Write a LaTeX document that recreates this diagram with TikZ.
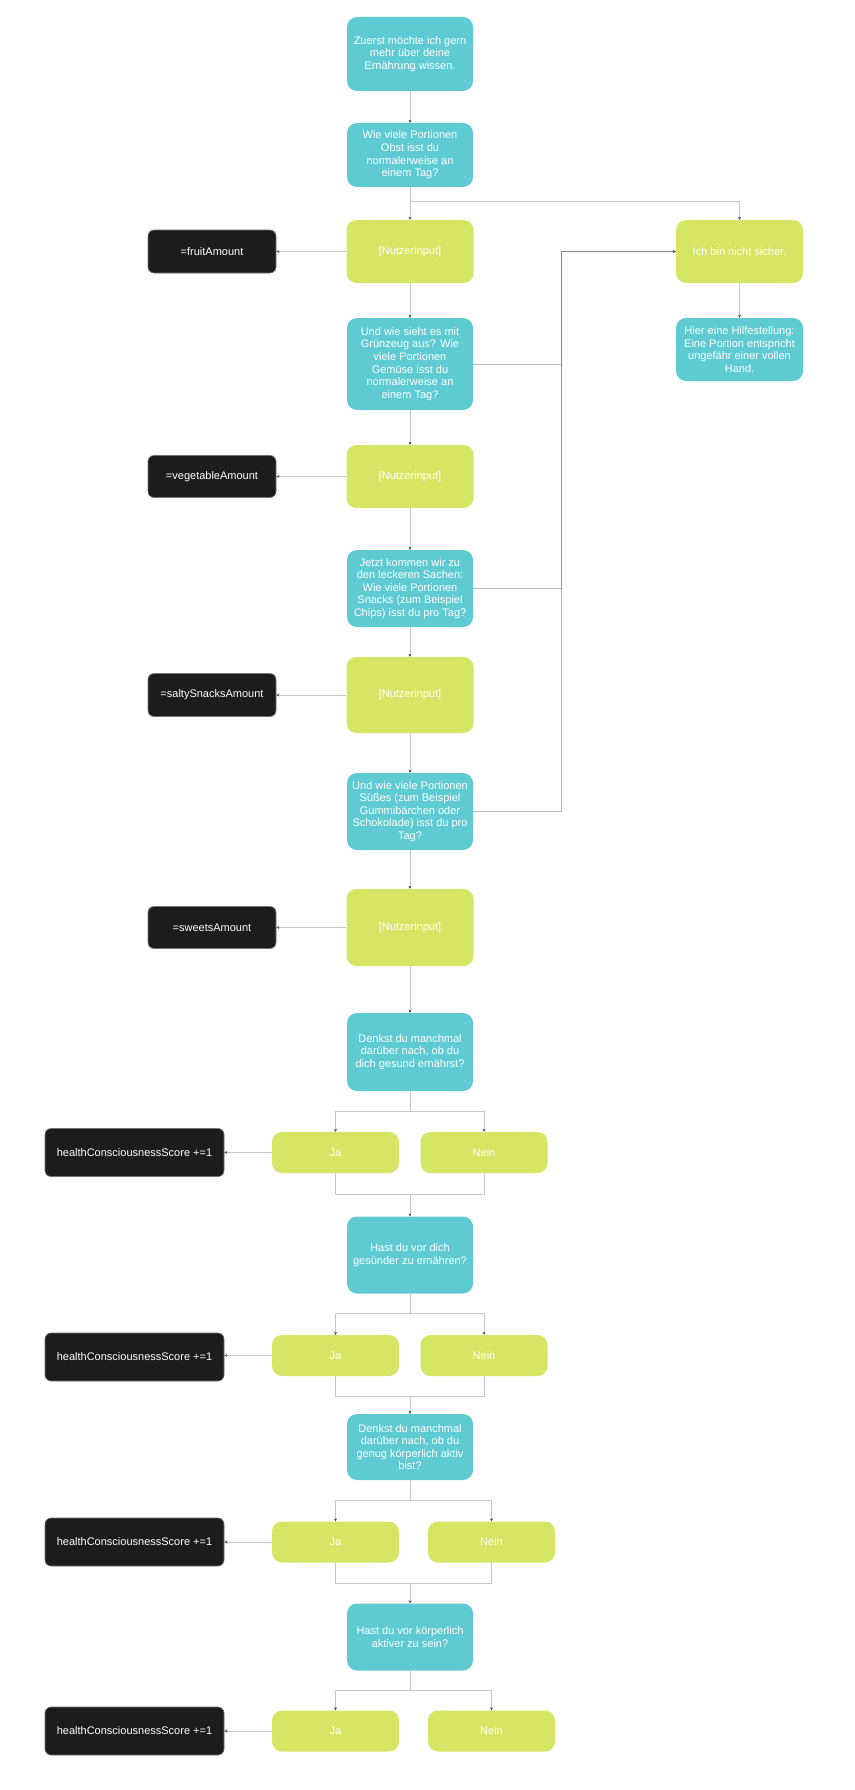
\documentclass[tikz,border=0pt]{standalone}
\usepackage{fontspec}
\setmainfont{Liberation Sans}
\usetikzlibrary{arrows.meta}
\definecolor{teal1}{HTML}{5ECBD3}
\definecolor{lime1}{HTML}{D6E664}
\definecolor{blk}{HTML}{1C1C1C}
\definecolor{ln}{HTML}{C4C4C4}
\definecolor{tip}{HTML}{4A4A4A}
\begin{document}
\begin{tikzpicture}[x=1pt,y=-1pt,
  box/.style={rounded corners=10pt, minimum width=126pt, align=center, text=white, inner sep=0pt, font=\fontsize{11}{12.6}\selectfont},
  qbox/.style={box, fill=teal1},
  abox/.style={box, fill=lime1, minimum width=127pt},
  vbox/.style={box, fill=blk, draw=black!55, line width=0.6pt, rounded corners=6pt},
  line/.style={draw=ln, line width=0.8pt},
  conn/.style={line, -{Stealth[length=3pt,width=3pt,color=tip]}},
  bus/.style={draw=black!55, draw opacity=0.5, line width=0.8pt},
  busarr/.style={bus, -{Stealth[length=3pt,width=3pt,color=tip]}}
]
\useasboundingbox[fill=white] (0,0) rectangle (854,1790);

% main column
\node[qbox, minimum height=74pt] (q1) at (410,54) {Zuerst möchte ich gern\\mehr über deine\\Ernährung wissen.};
\node[qbox, minimum height=64pt] (q2) at (410,155) {Wie viele Portionen\\Obst isst du\\normalerweise an\\einem Tag?};
\node[abox, minimum height=63pt] (in1) at (410,251.5) {[Nutzerinput]};
\node[vbox, minimum width=128pt, minimum height=43pt] (fruit) at (212,251.5) {=fruitAmount};
\node[qbox, minimum height=92pt] (q3) at (410,364) {Und wie sieht es mit\\Grünzeug aus? Wie\\viele Portionen\\Gemüse isst du\\normalerweise an\\einem Tag?};
\node[abox, minimum height=63pt] (in2) at (410,476.5) {[Nutzerinput]};
\node[vbox, minimum width=128pt, minimum height=42pt] (veg) at (212,476.5) {=vegetableAmount};
\node[qbox, minimum height=77pt] (q4) at (410,588.5) {Jetzt kommen wir zu\\den leckeren Sachen:\\Wie viele Portionen\\Snacks (zum Beispiel\\Chips) isst du pro Tag?};
\node[abox, minimum height=76pt] (in3) at (410,695) {[Nutzerinput]};
\node[vbox, minimum width=128pt, minimum height=43pt] (salty) at (212,695) {=saltySnacksAmount};
\node[qbox, minimum height=77pt] (q5) at (410,811.5) {Und wie viele Portionen\\Süßes (zum Beispiel\\Gummibärchen oder\\Schokolade) isst du pro\\Tag?};
\node[abox, minimum height=77pt] (in4) at (410,927.5) {[Nutzerinput]};
\node[vbox, minimum width=128pt, minimum height=42pt] (sweets) at (212,927.5) {=sweetsAmount};

% right column
\node[abox, minimum height=63pt] (ich) at (739.5,251.5) {Ich bin nicht sicher.};
\node[qbox, minimum width=127pt, minimum height=63pt] (hilf) at (739.5,349.5) {Hier eine Hilfestellung:\\Eine Portion entspricht\\ungefähr einer vollen\\Hand.};

% yes/no questions
\node[qbox, minimum height=78pt] (q6) at (410,1052) {Denkst du manchmal\\darüber nach, ob du\\dich gesund ernährst?};
\node[abox, minimum height=41pt] (ja1) at (335.5,1152.5) {Ja};
\node[abox, minimum height=41pt] (nein1) at (484,1152.5) {Nein};
\node[vbox, minimum width=179pt, minimum height=48pt] (s1) at (134.5,1152.5) {healthConsciousnessScore +=1};

\node[qbox, minimum height=77pt] (q7) at (410,1255) {Hast du vor dich\\gesünder zu ernähren?};
\node[abox, minimum height=41pt] (ja2) at (335.5,1355.5) {Ja};
\node[abox, minimum height=41pt] (nein2) at (484,1355.5) {Nein};
\node[vbox, minimum width=179pt, minimum height=48pt] (s2) at (134.5,1357) {healthConsciousnessScore +=1};

\node[qbox, minimum height=66pt] (q8) at (410,1447) {Denkst du manchmal\\darüber nach, ob du\\genug körperlich aktiv\\bist?};
\node[abox, minimum height=41pt] (ja3) at (335.5,1542) {Ja};
\node[abox, minimum height=41pt] (nein3) at (491.5,1542) {Nein};
\node[vbox, minimum width=179pt, minimum height=48pt] (s3) at (134.5,1542) {healthConsciousnessScore +=1};

\node[qbox, minimum height=67pt] (q9) at (410,1637) {Hast du vor körperlich\\aktiver zu sein?};
\node[abox, minimum height=41pt] (ja4) at (335.5,1731) {Ja};
\node[abox, minimum height=41pt] (nein4) at (491.5,1731) {Nein};
\node[vbox, minimum width=179pt, minimum height=48pt] (s4) at (134.5,1731) {healthConsciousnessScore +=1};

% coordinates
\coordinate (br) at (410,201);
\coordinate (bus) at (561,251.5);
\coordinate (m1) at (410,1194);
\coordinate (m2) at (410,1396);
\coordinate (m3) at (410,1583);

% main flow
\draw[conn] (q1) -- (q2);
\draw[conn] (q2) -- (in1);
\draw[conn] (q2.south) -- (br) -| (ich.north);
\draw[conn] (in1) -- (fruit);
\draw[conn] (in1) -- (q3);
\draw[conn] (q3) -- (in2);
\draw[conn] (in2) -- (veg);
\draw[conn] (in2) -- (q4);
\draw[conn] (q4) -- (in3);
\draw[conn] (in3) -- (salty);
\draw[conn] (in3) -- (q5);
\draw[conn] (q5) -- (in4);
\draw[conn] (in4) -- (sweets);
\draw[conn] (in4) -- (q6);
\draw[conn] (ich) -- (hilf);

% "not sure" bus
\draw[busarr] (q3.east) -| (bus) -- (ich.west);
\draw[busarr] (q4.east) -| (bus) -- (ich.west);
\draw[busarr] (q5.east) -| (bus) -- (ich.west);

% yes/no blocks
\draw[conn] (q6.south) -- ++(0,20) -| (ja1.north);
\draw[conn] (q6.south) -- ++(0,20) -| (nein1.north);
\draw[conn] (ja1) -- (s1);
\draw[line] (ja1.south) |- (m1);
\draw[line] (nein1.south) |- (m1);
\draw[conn] (m1) -- (q7.north);

\draw[conn] (q7.south) -- ++(0,20) -| (ja2.north);
\draw[conn] (q7.south) -- ++(0,20) -| (nein2.north);
\draw[conn] (ja2.west) -- (s2.east |- ja2.west);
\draw[line] (ja2.south) |- (m2);
\draw[line] (nein2.south) |- (m2);
\draw[conn] (m2) -- (q8.north);

\draw[conn] (q8.south) -- ++(0,20) -| (ja3.north);
\draw[conn] (q8.south) -- ++(0,20) -| (nein3.north);
\draw[conn] (ja3) -- (s3);
\draw[line] (ja3.south) |- (m3);
\draw[line] (nein3.south) |- (m3);
\draw[conn] (m3) -- (q9.north);

\draw[conn] (q9.south) -- ++(0,20) -| (ja4.north);
\draw[conn] (q9.south) -- ++(0,20) -| (nein4.north);
\draw[conn] (ja4) -- (s4);
\end{tikzpicture}
\end{document}
